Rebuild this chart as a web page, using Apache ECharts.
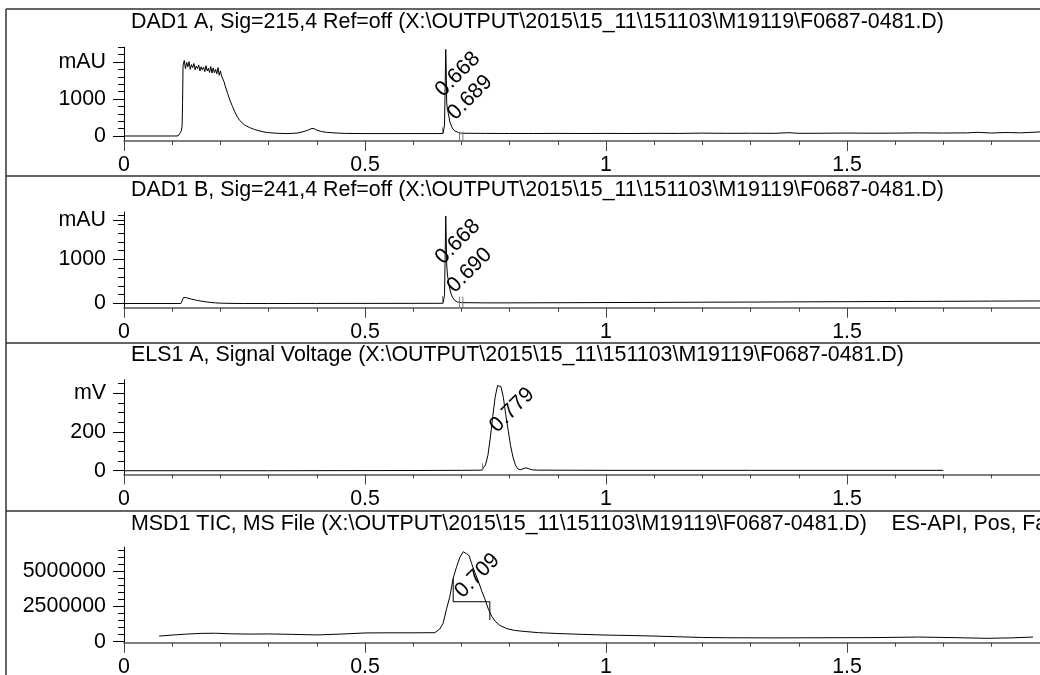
<!DOCTYPE html>
<html><head><meta charset="utf-8">
<script src="https://cdn.jsdelivr.net/npm/echarts@6/dist/echarts.min.js"></script>
<style>html,body{margin:0;padding:0;background:#fff}#c{width:1040px;height:675px}</style>
</head><body><div id="c"></div>
<script>
// ---------- data (retention time in min, signal) ----------
const titles = [
  'DAD1 A, Sig=215,4 Ref=off (X:\\OUTPUT\\2015\\15_11\\151103\\M19119\\F0687-0481.D)',
  'DAD1 B, Sig=241,4 Ref=off (X:\\OUTPUT\\2015\\15_11\\151103\\M19119\\F0687-0481.D)',
  'ELS1 A, Signal Voltage (X:\\OUTPUT\\2015\\15_11\\151103\\M19119\\F0687-0481.D)',
  'MSD1 TIC, MS File (X:\\OUTPUT\\2015\\15_11\\151103\\M19119\\F0687-0481.D)'
];
const msdExtraTitle = 'ES-API, Pos, Fast Scan';
const units = ['mAU', 'mAU', 'mV', ''];

const dadA = [[0,0],[0.05,0],[0.1,0],[0.112,2],[0.115,40],[0.117,90],[0.119,150],[0.1205,260],[0.1215,900],
 [0.1225,1900],[0.125,2040],[0.1275,1820],[0.13,1990],[0.1325,1870],[0.135,2010],[0.1375,1800],[0.14,1930],
 [0.1425,1850],[0.145,1960],[0.1475,1790],[0.15,1890],[0.1525,1820],[0.155,1920],[0.1575,1760],[0.16,1870],
 [0.1625,1790],[0.165,1860],[0.1675,1740],[0.17,1900],[0.1725,1760],[0.175,1830],[0.1775,1720],[0.18,1880],
 [0.1825,1700],[0.185,1840],[0.1875,1710],[0.19,1800],[0.1925,1680],[0.195,1850],[0.1975,1640],[0.2,1760],
 [0.2025,1620],[0.205,1580],[0.2075,1470],[0.21,1350],[0.215,1150],[0.22,960],[0.225,800],[0.23,650],
 [0.235,520],[0.24,420],[0.25,300],[0.26,230],[0.27,180],[0.28,140],[0.29,110],[0.3,90],[0.32,72],[0.34,65],
 [0.36,80],[0.37,110],[0.38,150],[0.39,205],[0.395,195],[0.4,160],[0.41,120],[0.42,100],[0.44,80],[0.46,70],
 [0.5,65],[0.55,65],[0.6,66],[0.65,66],[0.662,68],[0.665,300],[0.6665,1500],[0.6675,2340],[0.6685,1800],
 [0.6695,900],[0.671,720],[0.673,610],[0.676,380],[0.681,220],[0.685,150],[0.689,120],[0.694,90],[0.7,75],
 [0.75,70],[0.8,68],[0.85,68],[0.9,70],[0.95,68],[1.0,70],[1.05,68],[1.1,72],[1.15,70],[1.2,78],[1.25,72],
 [1.3,75],[1.35,72],[1.38,90],[1.4,72],[1.45,75],[1.5,80],[1.55,75],[1.6,78],[1.65,85],[1.7,80],[1.75,85],
 [1.77,100],[1.8,80],[1.83,95],[1.86,85],[1.9,110],[1.95,100],[2.0,110]];

const dadB = [[0,0],[0.05,0],[0.118,0],[0.121,20],[0.1235,140],[0.13,130],[0.14,100],[0.15,75],[0.16,55],
 [0.17,38],[0.18,25],[0.19,15],[0.2,8],[0.22,3],[0.25,0],[0.3,0],[0.4,2],[0.5,3],[0.6,4],[0.65,5],[0.662,6],
 [0.665,200],[0.6665,1200],[0.6675,1990],[0.6685,1500],[0.6695,900],[0.671,650],[0.673,520],[0.675,380],
 [0.678,240],[0.682,130],[0.687,65],[0.692,35],[0.7,20],[0.75,15],[0.8,15],[0.9,18],[1.0,22],[1.1,25],
 [1.2,30],[1.3,33],[1.4,38],[1.5,42],[1.6,46],[1.7,50],[1.8,55],[1.9,58],[2.0,60]];

const els = [[0,0],[0.3,0],[0.6,1],[0.7,2],[0.742,3],[0.745,8],[0.75,30],[0.755,80],[0.76,170],[0.765,280],
 [0.77,380],[0.775,440],[0.778,448],[0.782,435],[0.787,380],[0.792,290],[0.797,210],[0.802,130],[0.807,70],
 [0.812,30],[0.817,10],[0.822,5],[0.828,10],[0.834,15],[0.84,10],[0.848,4],[0.86,3],[1.0,2],[1.3,2],[1.7,2]];

const tic = [[0.073,400000],[0.1,470000],[0.13,540000],[0.16,590000],[0.19,600000],[0.22,560000],[0.26,540000],
 [0.3,550000],[0.35,520000],[0.4,480000],[0.45,540000],[0.5,620000],[0.55,630000],[0.6,630000],[0.645,640000],
 [0.655,900000],[0.662,1300000],[0.669,2300000],[0.676,3200000],[0.683,4500000],[0.69,5300000],[0.697,6000000],
 [0.704,6370000],[0.71,6250000],[0.716,6100000],[0.721,5550000],[0.728,4900000],[0.735,4300000],[0.742,3600000],
 [0.749,3000000],[0.756,2300000],[0.763,1800000],[0.77,1450000],[0.78,1150000],[0.795,920000],[0.81,800000],
 [0.83,730000],[0.86,640000],[0.9,580000],[0.95,520000],[1.0,470000],[1.05,440000],[1.1,400000],[1.15,350000],
 [1.2,300000],[1.25,280000],[1.35,270000],[1.45,280000],[1.55,290000],[1.65,330000],[1.72,290000],
 [1.79,240000],[1.84,270000],[1.886,330000]];

// integration markers: [x, y0, y1] per panel
const markersA = [[0.661,73,235],[0.696,-135,116],[0.703,-135,116]];
const markersB = [[0.661,0,170],[0.696,-95,155],[0.703,-95,155]];
const markersE = [[0.744,0,38]];
const ticBox = [[0.683,4490000],[0.683,2830000],[0.759,2830000],[0.759,1540000]];

// peak labels: [panel, text, x, y(apex)]
const peakLabels = [[0,'0.668',0.6675,2340],[0,'0.689',0.689,120],[1,'0.668',0.6675,1990],[1,'0.690',0.690,50],
 [2,'0.779',0.778,448],[3,'0.709',0.704,6370000]];

// axis ticks / labels
const xMin = 0, xMax = 2, xStep = 0.5;
const yRanges = [[-135,2400],[-95,2080],[-19,470],[-70000,6700000]];
const yMajor = [[0,1000,2000],[0,1000,1900],[0,200,400],[0,2500000,5000000]];
const yMinor = [
 [200,400,600,800,1200,1400,1600,1800,2200,2400],
 [200,400,600,800,1200,1400,1600,1800,2000],
 [50,100,150,250,300,350,450],
 [500000,1000000,1500000,2000000,3000000,3500000,4000000,4500000,5500000,6000000,6500000]
];

// ---------- layout ----------
const FONT = '"Liberation Sans", Arial, sans-serif';
const FS = 21.4;
const grids = [
  {top:47.2, height:93.8},
  {top:212, height:95.7},
  {top:379.8, height:94.6},
  {top:547.1, height:95.6}
];
const titleY = [22, 190, 355, 524];
const labelOffsets = [[12,25],[14,-34],[12,26],[13,-31],[13,26],[14,24]];

const chart = echarts.init(document.getElementById('c'), null, {renderer:'canvas'});

const gridOpt = grids.map(g => ({left:124, width:964, top:g.top, height:g.height,
  containLabel:false, outerBoundsMode:'none'}));
const xAxes = grids.map((g,i) => ({
  gridIndex:i, type:'value', min:xMin, max:xMax, interval:xStep,
  axisLine:{show:true, onZero:false, lineStyle:{color:'#555', width:1.5}},
  axisTick:{show:true, length:10, lineStyle:{color:'#444'}},
  minorTick:{show:true, splitNumber:5, length:4, lineStyle:{color:'#444'}},
  axisLabel:{show:true, margin:14, fontSize:FS, color:'#000', fontFamily:FONT},
  splitLine:{show:false}, minorSplitLine:{show:false}
}));
const yAxes = [];
grids.forEach((g,i) => {
  yAxes.push({
    gridIndex:i, type:'value', min:yRanges[i][0], max:yRanges[i][1], position:'left',
    axisLine:{show:true, onZero:false, lineStyle:{color:'#000', width:1}},
    axisTick:{show:true, length:11, customValues:yMajor[i], lineStyle:{color:'#000'}},
    axisLabel:{show:true, customValues:yMajor[i], margin:18, fontSize:FS, color:'#000', fontFamily:FONT,
      formatter:(v) => (units[i] && v === yMajor[i][2]) ? units[i] : String(v)},
    splitLine:{show:false}
  });
  yAxes.push({
    gridIndex:i, type:'value', min:yRanges[i][0], max:yRanges[i][1], position:'left', offset:0,
    axisLine:{show:false},
    axisTick:{show:true, length:6, customValues:yMinor[i], lineStyle:{color:'#000'}},
    axisLabel:{show:false}, splitLine:{show:false}
  });
});

const lineBase = {type:'line', showSymbol:false, symbol:'none', animation:false, silent:true};
const series = [];
[dadA, dadB, els, tic].forEach((d,i) => {
  series.push(Object.assign({}, lineBase, {xAxisIndex:i, yAxisIndex:2*i, data:d,
    lineStyle:{color:'#000', width:1}}));
});
[markersA, markersB, markersE].forEach((ms,i) => {
  ms.forEach(m => series.push(Object.assign({}, lineBase, {xAxisIndex:i, yAxisIndex:2*i,
    data:[[m[0],m[1]],[m[0],m[2]]], lineStyle:{color:'#777', width:1}})));
});
series.push(Object.assign({}, lineBase, {xAxisIndex:3, yAxisIndex:6, data:ticBox, lineStyle:{color:'#000', width:1}}));

const frame = [
  {type:'line', shape:{x1:6, y1:9, x2:1040, y2:9}, style:{stroke:'#333', lineWidth:1.5}},
  {type:'line', shape:{x1:6, y1:9, x2:6, y2:675}, style:{stroke:'#333', lineWidth:1.5}},
  {type:'line', shape:{x1:6, y1:176, x2:1040, y2:176}, style:{stroke:'#333', lineWidth:1.5}},
  {type:'line', shape:{x1:6, y1:343, x2:1040, y2:343}, style:{stroke:'#333', lineWidth:1.5}},
  {type:'line', shape:{x1:6, y1:511, x2:1040, y2:511}, style:{stroke:'#333', lineWidth:1.5}}
];
const titleEls = titles.map((t,i) => ({type:'text', x:131, y:titleY[i],
  style:{text:t, fill:'#000', font:FS + 'px ' + FONT, verticalAlign:'middle', align:'left'}}));
titleEls.push({type:'text', x:891.5, y:titleY[3],
  style:{text:msdExtraTitle, fill:'#000', font:FS + 'px ' + FONT, verticalAlign:'middle', align:'left'}});

chart.setOption({
  animation:false,
  grid:gridOpt, xAxis:xAxes, yAxis:yAxes, series:series,
  graphic:frame.concat(titleEls)
});

const labelEls = peakLabels.map((p,k) => {
  const px = chart.convertToPixel({xAxisIndex:p[0], yAxisIndex:2*p[0]}, [p[2], p[3]]);
  return {type:'text', x:px[0] + labelOffsets[k][0], y:px[1] + labelOffsets[k][1], rotation:Math.PI/4,
    style:{text:p[1], fill:'#000', font:FS + 'px ' + FONT, align:'center', verticalAlign:'middle'}};
});
chart.setOption({graphic:frame.concat(titleEls, labelEls)});
</script>
</body></html>
